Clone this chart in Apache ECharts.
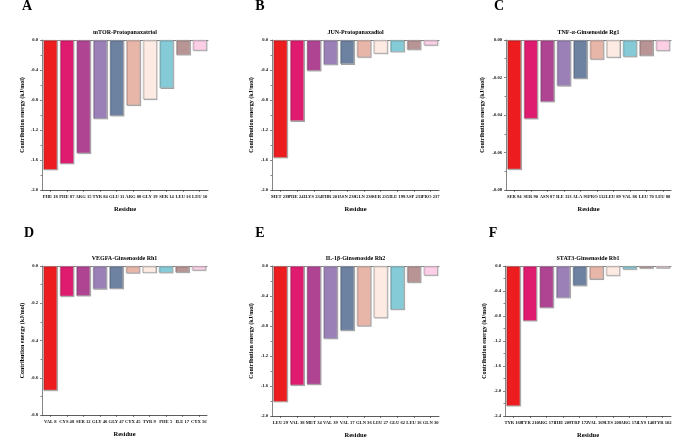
<!DOCTYPE html>
<html>
<head>
<meta charset="utf-8">
<script src="https://cdn.jsdelivr.net/npm/echarts@6/dist/echarts.min.js"></script>
<style>html,body{margin:0;padding:0;background:#fff}#c{width:685px;height:445px}</style>
</head>
<body>
<div id="c"></div>
<script>
const colors = ['#ED1C1F','#DF1B6F','#AF4592','#9A80B7','#6D81A1','#E8B5A9','#FDEBE3','#85CBD7','#B89495','#FCCFE7'];

const letters = ['A','B','C','D','E','F'];
const titles = ['mTOR-Protopanaxatriol','JUN-Protopanaxadiol','TNF-α-Ginsenoside Rg1','VEGFA-Ginsenoside Rh1','IL-1β-Ginsenoside Rh2','STAT3-Ginsenoside Rb1'];

const catA = ['PHE 18','PHE 87','ARG 15','TYR 84','GLU 11','ARG 88','GLY 19','SER 14','LEU 16','LEU 10'];
const valA = [-1.73,-1.65,-1.51,-1.05,-1.01,-0.87,-0.79,-0.64,-0.20,-0.14];

const catB = ['MET 239','PHE 241','LYS 234','THR 201','ASN 238','GLN 236','SER 235','ILE 199','ASP 231','PRO 237'];
const valB = [-1.57,-1.08,-0.41,-0.33,-0.32,-0.23,-0.18,-0.16,-0.13,-0.07];

const catC = ['SER 94','SER 90','ASN 87','ILE 113','ALA 91','PRO 112','LEU 89','VAL 86','LEU 70','LEU 88'];
const valC = [-0.069,-0.042,-0.033,-0.0245,-0.0206,-0.0103,-0.0093,-0.0089,-0.0084,-0.0057];

const catD = ['VAL 8','CYS 48','SER 12','GLY 46','GLY 47','CYX 45','TYR 9','PHE 5','ILE 17','CYX 56'];
const valD = [-0.668,-0.163,-0.161,-0.124,-0.122,-0.038,-0.036,-0.036,-0.034,-0.023];

const catE = ['LEU 29','VAL 38','MET 34','VAL 39','VAL 17','GLN 36','LEU 27','GLU 62','LEU 16','GLN 30'];
const valE = [-1.81,-1.59,-1.58,-0.97,-0.86,-0.80,-0.69,-0.58,-0.22,-0.125];

const catF = ['TYR 168','TYR 210','ARG 171','HIE 209','TRP 172','VAL 169','LYS 208','ARG 174','LYS 140','TYR 102'];
const valF = [-2.24,-0.88,-0.67,-0.51,-0.315,-0.21,-0.155,-0.053,-0.037,-0.032];

const yMins = [-2.0,-2.0,-0.08,-0.8,-2.0,-2.4];
const yIntervals = [0.4,0.4,0.02,0.2,0.4,0.4];
const yDecimals = [1,1,2,1,1,1];

const cats = [catA,catB,catC,catD,catE,catF];
const vals = [valA,valB,valC,valD,valE,valF];

// layout
const grids = [
  {left:42, top:40, width:166, height:150},
  {left:272, top:40, width:167, height:150},
  {left:506, top:40, width:165, height:150},
  {left:42, top:266, width:165, height:149},
  {left:272, top:266, width:167, height:150},
  {left:505, top:266, width:166, height:150}
];
const letterPos = [[27,7],[260,7],[499,7],[29,234],[260,234],[493,234]];
const yNameGaps = [17,18,21,17,18,18];

const FONT = '"Liberation Serif","Times New Roman",serif';

const titleArr = [];
grids.forEach((g,i)=>{
  titleArr.push({text:letters[i], left:letterPos[i][0], top:letterPos[i][1]-8, textAlign:'center',
    textStyle:{fontFamily:FONT, fontWeight:'bold', fontSize:14, color:'#000'}, padding:0});
  titleArr.push({text:titles[i], left:g.left+g.width/2, top:g.top-11, textAlign:'center',
    textStyle:{fontFamily:FONT, fontWeight:'bold', fontSize:6, color:'#000'}, padding:0});
});

const xAxes = [], yAxes = [], series = [];
grids.forEach((g,i)=>{
  xAxes.push({
    type:'category', gridIndex:i, data:cats[i], position:'bottom',
    name:'Residue', nameLocation:'middle', nameGap:16,
    nameTextStyle:{fontFamily:FONT, fontWeight:'bold', fontSize:6.5, color:'#000'},
    axisLine:{show:true, onZero:false, lineStyle:{color:'#333', width:0.8}},
    axisTick:{show:true, alignWithLabel:true, length:2, lineStyle:{color:'#333', width:0.6}},
    axisLabel:{interval:0, fontFamily:FONT, fontWeight:'bold', fontSize:4.6, color:'#111', margin:4}
  });
  xAxes.push({
    type:'category', gridIndex:i, data:cats[i], position:'top',
    axisLine:{show:true, onZero:false, lineStyle:{color:'#666', width:0.8}},
    axisTick:{show:false}, axisLabel:{show:false}
  });
  yAxes.push({
    type:'value', gridIndex:i, min:yMins[i], max:0, interval:yIntervals[i],
    name:'Contribution energy (kJ/mol)', nameLocation:'middle', nameGap:yNameGaps[i], nameRotate:90,
    nameTextStyle:{fontFamily:FONT, fontWeight:'bold', fontSize:6, color:'#000'},
    axisLine:{show:true, onZero:false, lineStyle:{color:'#666', width:0.8}},
    axisTick:{show:true, length:2, lineStyle:{color:'#333', width:0.6}},
    minorTick:{show:true, splitNumber:2, length:1.5, lineStyle:{color:'#333', width:0.6}},
    splitLine:{show:false},
    axisLabel:{fontFamily:FONT, fontWeight:'bold', fontSize:4.6, color:'#111', margin:4,
      formatter:v=>v.toFixed(yDecimals[i])}
  });
  series.push({
    type:'bar', xAxisIndex:2*i, yAxisIndex:i, data:vals[i], barWidth:'84%',
    itemStyle:{color:p=>colors[p.dataIndex], borderColor:'#aaa', borderWidth:0.6,
      shadowColor:'rgba(0,0,0,0.25)', shadowOffsetX:0.8, shadowOffsetY:0.8, shadowBlur:0.5},
    silent:true
  });
});

const chart = echarts.init(document.getElementById('c'), null, {renderer:'canvas'});
chart.setOption({
  animation:false,
  backgroundColor:'#fff',
  title:titleArr,
  grid:grids,
  xAxis:xAxes,
  yAxis:yAxes,
  series:series
});
</script>
</body>
</html>
